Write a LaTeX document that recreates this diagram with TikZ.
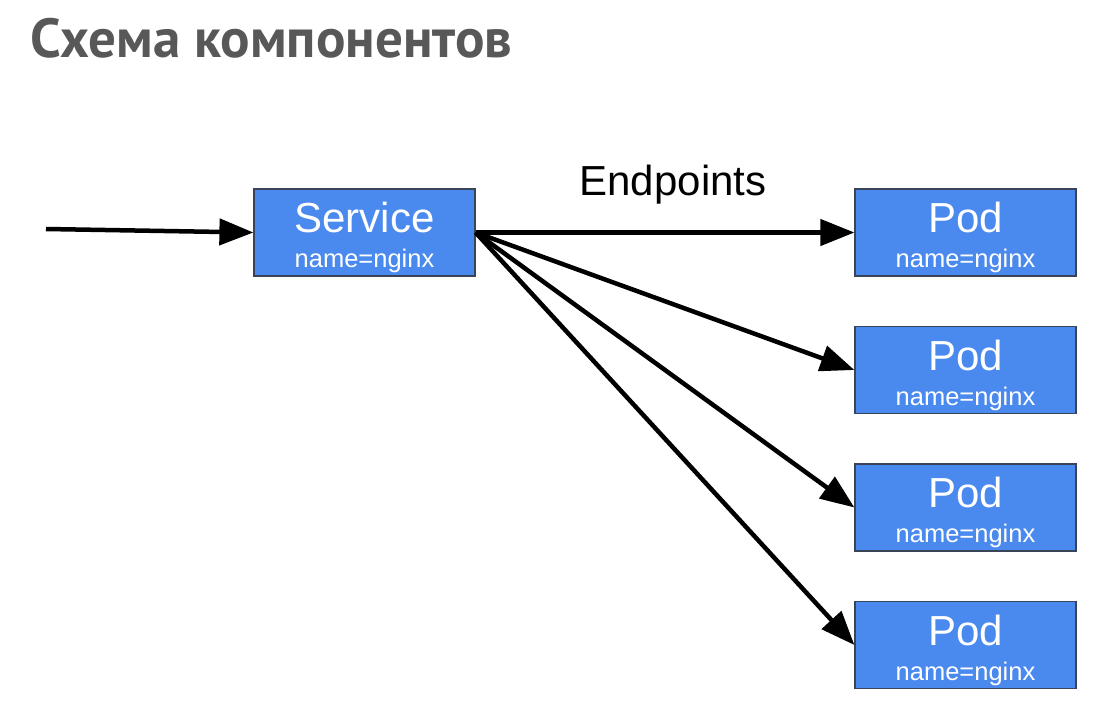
\documentclass[tikz,border=0pt]{standalone}
\usepackage{fontspec}
\setmainfont{Liberation Sans}
\newfontfamily\titlefont{PT Sans}
\usetikzlibrary{arrows.meta}
\definecolor{boxblue}{HTML}{4A89EE}
\definecolor{boxedge}{HTML}{3A4458}
\definecolor{titlegray}{HTML}{585858}
\tikzset{
  x=1pt, y=1pt,
  compbox/.style={draw=boxedge, line width=1.2pt, fill=boxblue, minimum width=221pt, minimum height=87pt, inner sep=0pt},
  bigtxt/.style={text=white, anchor=base, inner sep=0pt, font=\fontsize{42}{46}\selectfont},
  smalltxt/.style={text=white, anchor=base, inner sep=0pt, font=\fontsize{25.5}{30}\selectfont},
  conn/.style={line width=4.5pt, -{Triangle[length=34pt, width=26pt]}, shorten >=0pt},
}
\begin{document}
\begin{tikzpicture}
\useasboundingbox (0,0) rectangle (1117,-712);
\node[anchor=base west, inner sep=0pt, text=titlegray, font=\titlefont\bfseries\fontsize{55}{60}\selectfont] (title) at (30,-57) {Схема компонентов};

\node[compbox] (svc) at (364.5,-232.5) {};
\node[bigtxt] (svct) at ([yshift=0pt]svc.center) {Service};
\node[smalltxt] (svcn) at ([yshift=-35pt]svc.center) {name=nginx};

\foreach \i/\y in {1/232.5, 2/370, 3/507.5, 4/645} {
  \node[compbox] (pod\i) at (965.5,-\y) {};
  \node[bigtxt] (pod\i t) at ([yshift=0pt]pod\i.center) {Pod};
  \node[smalltxt] (pod\i n) at ([yshift=-35pt]pod\i.center) {name=nginx};
}

\node[anchor=base, inner sep=0pt, font=\fontsize{42}{46}\selectfont] (ep) at (673,-195) {Endpoints};

\coordinate (in) at (46,-229);
\draw[conn] (in) -- (svc.west);
\foreach \i in {1,2,3,4} {
  \draw[conn] (svc.east) -- (pod\i.west);
}
\end{tikzpicture}
\end{document}
